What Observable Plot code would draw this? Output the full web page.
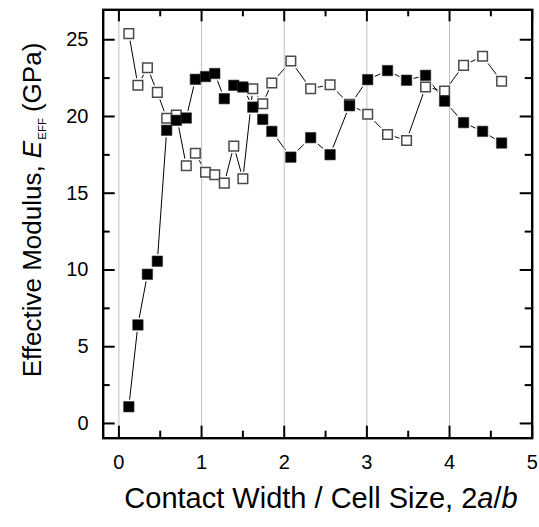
<!DOCTYPE html>
<html><head><meta charset="utf-8">
<script src="https://cdn.jsdelivr.net/npm/d3@7"></script>
<script src="https://cdn.jsdelivr.net/npm/@observablehq/plot@0.6"></script>
<style>body{margin:0;background:#fff} #chart{width:539px;height:527px}</style>
</head><body><div id="chart"></div>
<script>
// Contact width / cell size, 2a/b
const contactWidth = [0.12,0.23,0.345,0.465,0.578,0.695,0.815,0.925,1.048,1.16,1.275,1.39,1.50,1.62,1.74,1.85,2.08,2.32,2.555,2.79,3.01,3.25,3.48,3.71,3.94,4.17,4.40,4.63];
// Effective modulus (GPa), filled squares
const modulusFilled = [1.09,6.42,9.72,10.57,19.1,19.75,19.9,22.42,22.6,22.8,21.16,22.03,21.92,20.61,19.81,19.03,17.35,18.62,17.51,20.7,22.4,22.99,22.36,22.68,21.0,19.6,19.03,18.27];
// Effective modulus (GPa), open squares
const modulusOpen = [25.4,22.03,23.18,21.57,19.88,20.1,16.79,17.61,16.37,16.2,15.66,18.07,15.94,21.81,20.83,22.18,23.61,21.81,22.07,20.8,20.14,18.83,18.44,21.92,21.66,23.33,23.92,22.29];

const xMajorTicks = [0,1,2,3,4,5];
const xMinorTicks = [0.5,1.5,2.5,3.5,4.5];
const yMajorTicks = [0,5,10,15,20,25];
const yMinorTicks = [2.5,7.5,12.5,17.5,22.5];
const gridX = [0,1,2,3,4];

const W = 539, H = 527;
const mL = 102.7, mR = 7.3, mT = 9.3, mB = 89.3;
const plotW = W - mL - mR, plotH = H - mT - mB;
const MAJ = 12, MIN = 7;

const filled = contactWidth.map((x, i) => ({x, y: modulusFilled[i]}));
const open = contactWidth.map((x, i) => ({x, y: modulusOpen[i]}));
const both = open.concat(filled);

const plot = Plot.plot({
  width: W, height: H,
  marginLeft: mL, marginRight: mR, marginTop: mT, marginBottom: mB,
  style: {fontFamily: "'Liberation Sans', Arial, sans-serif", fontSize: "20px", background: "white", color: "black", overflow: "visible"},
  x: {domain: [-0.19, 5], ticks: xMajorTicks, tickFormat: d3.format("d"), tickSize: 0, tickPadding: 17, label: null},
  y: {domain: [-0.96, 26.95], ticks: yMajorTicks, tickFormat: d3.format("d"), tickSize: 0, tickPadding: 14.7, label: null},
  marks: [
    Plot.line(open, {x: "x", y: "y", stroke: "black", strokeWidth: 1}),
    Plot.line(filled, {x: "x", y: "y", stroke: "black", strokeWidth: 1}),
    Plot.dot(both, {x: "x", y: "y", symbol: "square", r: 8, fill: "white", stroke: null}),
    Plot.ruleX(gridX, {x: d => d, stroke: "#c0c0c0", strokeWidth: 1}),
    Plot.dot(open, {x: "x", y: "y", symbol: "square", r: 5.4, fill: "white", stroke: "#4a4a4a", strokeWidth: 1.5}),
    Plot.dot(filled, {x: "x", y: "y", symbol: "square", r: 5.9, fill: "black", stroke: "#333", strokeWidth: 0.6}),
    // inward ticks: bottom, top
    Plot.tickX(xMajorTicks, {x: d => d, insetTop: plotH - MAJ, stroke: "black", strokeWidth: 2}),
    Plot.tickX(xMinorTicks, {x: d => d, insetTop: plotH - MIN, stroke: "black", strokeWidth: 2}),
    Plot.tickX(xMajorTicks, {x: d => d, insetBottom: plotH - MAJ, stroke: "black", strokeWidth: 2}),
    Plot.tickX(xMinorTicks, {x: d => d, insetBottom: plotH - MIN, stroke: "black", strokeWidth: 2}),
    // inward ticks: left, right
    Plot.tickY(yMajorTicks, {y: d => d, insetRight: plotW - MAJ, stroke: "black", strokeWidth: 2}),
    Plot.tickY(yMinorTicks, {y: d => d, insetRight: plotW - MIN, stroke: "black", strokeWidth: 2}),
    Plot.tickY(yMajorTicks, {y: d => d, insetLeft: plotW - MAJ, stroke: "black", strokeWidth: 2}),
    Plot.tickY(yMinorTicks, {y: d => d, insetLeft: plotW - MIN, stroke: "black", strokeWidth: 2}),
    Plot.frame({stroke: "black", strokeWidth: 2.4})
  ]
});

const svg = d3.select(plot);
const ff = "'Liberation Sans', Arial, sans-serif";
// x title
const xt = svg.append("text")
  .attr("x", 321).attr("y", 508)
  .attr("text-anchor", "middle").attr("font-size", 29).attr("font-family", ff).attr("fill", "black");
xt.append("tspan").text("Contact Width / Cell Size, 2");
xt.append("tspan").attr("font-style", "italic").text("a");
xt.append("tspan").text("/");
xt.append("tspan").attr("font-style", "italic").text("b");
// y title
const yt = svg.append("text")
  .attr("transform", "translate(41,210) rotate(-90)")
  .attr("text-anchor", "middle").attr("font-size", 26).attr("font-family", ff).attr("fill", "black");
yt.append("tspan").text("Effective Modulus, ");
yt.append("tspan").attr("font-style", "italic").text("E");
yt.append("tspan").attr("font-size", 11.5).attr("dy", 5).attr("dx", 1).text("EFF");
yt.append("tspan").attr("dy", -5).attr("dx", 6).text("(GPa)");

document.getElementById("chart").appendChild(plot);
</script>
</body></html>
